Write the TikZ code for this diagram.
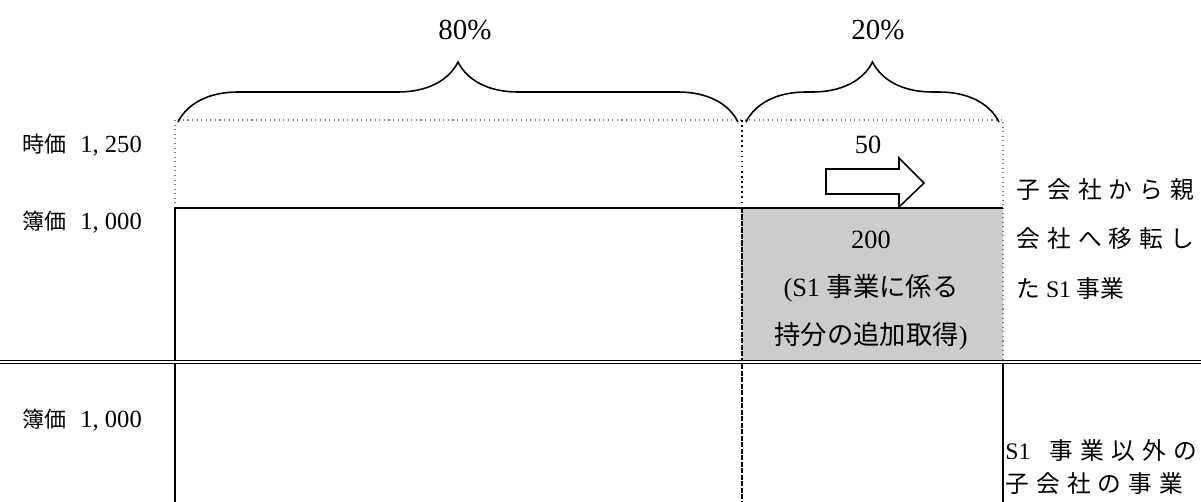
\documentclass[tikz,border=0pt]{standalone}
\usepackage{fontspec}
\setmainfont{Liberation Serif}
\newfontfamily\cjk{Noto Sans CJK JP}
\newfontfamily\cjkwide[LetterSpace=30]{Noto Sans CJK JP}
\usetikzlibrary{decorations.pathreplacing}

\tikzset{
  boxline/.style={line width=1.1pt},
  guide/.style={gray, dotted, line width=0.6pt},
  splitline/.style={line width=1.7pt, dash pattern=on 3pt off 0.7pt},
  bracket/.style={decorate, decoration={brace, amplitude=1.2cm}, line width=0.9pt},
  lab/.style={font=\fontsize{12.5}{15}\selectfont, inner sep=0pt},
}
\newcommand{\bookval}[2]{{\cjk #1}\hspace{8pt}{\fontsize{14}{15}\selectfont #2}}

\begin{document}
\begin{tikzpicture}[x=0.02cm, y=-0.02cm]
\useasboundingbox (0,0) rectangle (1201,502);

% corners of the boxes
\coordinate (a0) at (175,120); \coordinate (b0) at (742,120); \coordinate (c0) at (1003,120);
\coordinate (a1) at (175,208); \coordinate (b1) at (742,208); \coordinate (c1) at (1003,208);
\coordinate (a2) at (175,361); \coordinate (b2) at (742,361); \coordinate (c2) at (1003,361);
\coordinate (a3) at (175,502); \coordinate (b3) at (742,502); \coordinate (c3) at (1003,502);
\coordinate (l2) at (0,362);   \coordinate (r2) at (1201,362);

% acquired part
\fill [gray!40] (b1) rectangle (c2);

% market value outline
\draw [guide] (a1) -- (a0) -- (c0) -- (c1);
\draw [guide] (c1) -- (c2);
\draw [black, dotted, line width=0.9pt] (b0) -- (b1);

% book value boxes
\draw [boxline] (a2) -- (a1) -- (c1);
\draw [boxline] (a2) -- (a3);
\draw [boxline] (c2) -- (c3);
\draw [splitline] (b1) -- (b3);
\draw [double, double distance=1.2pt, line width=0.7pt] (l2) -- (r2);

% braces
\draw [bracket] (178,122) -- (738,122);
\draw [bracket] (746,122) -- (999,122);
\node (p80) at (465,30) {\fontsize{16.5}{18}\selectfont 80\%};
\node (p20) at (878,30) {\fontsize{16.5}{18}\selectfont 20\%};

% left labels
\node [lab, anchor=west] (jika) at (22,145) {\bookval{時価}{1,\ 250}};
\node [lab, anchor=west] (boka) at (22,222) {\bookval{簿価}{1,\ 000}};
\node [lab, anchor=west] (boka2) at (22,420) {\bookval{簿価}{1,\ 000}};

% transfer of 50
\node (v50) at (868,145) {\fontsize{15}{17}\selectfont 50};
\draw [line width=0.9pt, fill=white] (826,169) -- (899,169) -- (899,158) -- (924,183)
  -- (899,207) -- (899,194) -- (826,194) -- cycle;

% gray box text
\node [align=center, font=\fontsize{15}{27.3}\selectfont] (v200) at (871,291)
  {200\\(S1 {\cjk 事業に係る}\\{\cjk 持分の追加取得})};

% right texts
\node [lab, anchor=west, align=left, font=\fontsize{13.5}{28}\selectfont] (moved) at (1016,239)
  {{\cjkwide 子会社から親}\\{\cjkwide 会社へ移転し}\\{\cjk た} S1 {\cjk 事業}};
\node [lab, anchor=west, align=left, font=\fontsize{13.5}{19}\selectfont] (other) at (1005,467)
  {S1\hspace{11pt}{\cjkwide 事業以外の}\\{\cjkwide 子会社の事業}};
\end{tikzpicture}
\end{document}
